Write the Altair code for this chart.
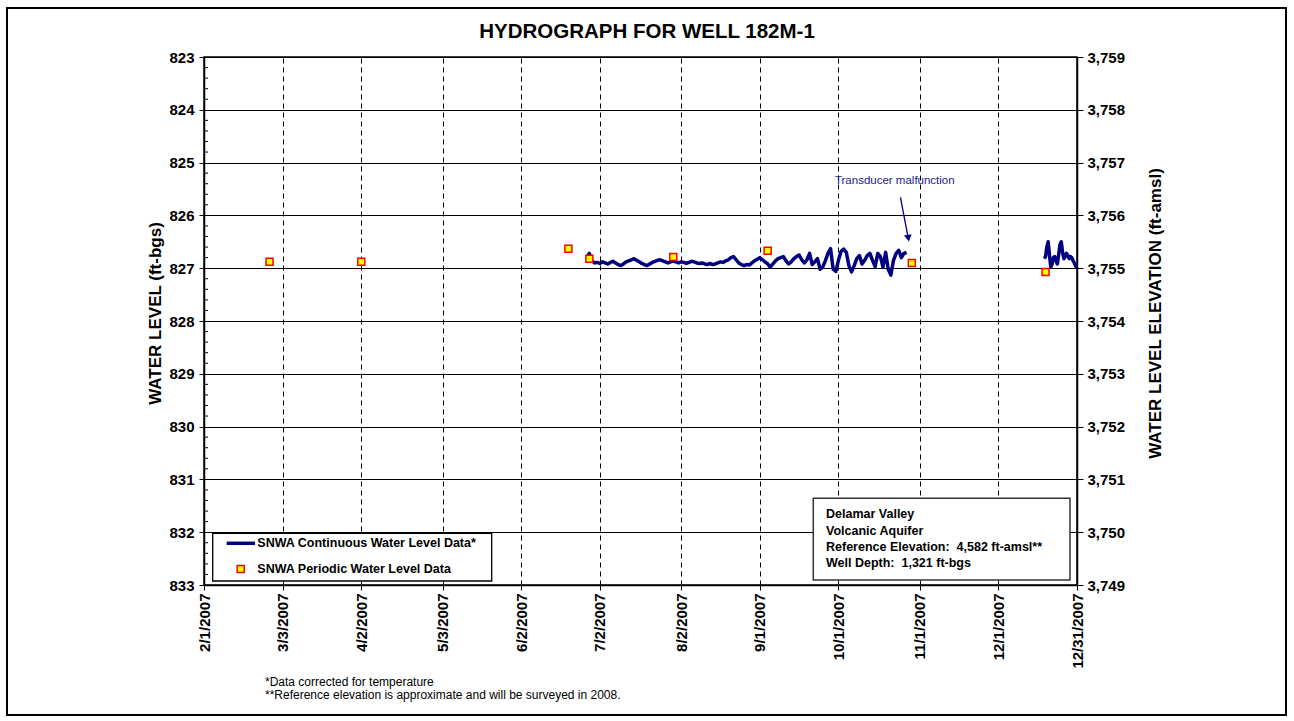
import altair as alt
import pandas as pd

FONT = "Liberation Sans"
NAVY = "#000080"

# ---------------- data ----------------
periodic_dates = ["2007-02-26", "2007-04-02", "2007-06-20", "2007-06-28",
                  "2007-07-30", "2007-09-04", "2007-10-29", "2007-12-19"]
periodic_levels = [826.88, 826.88, 826.63, 826.82, 826.79, 826.67, 826.90, 827.07]

# continuous record, daily readings 6/27/2007 - 10/27/2007
cont1_start = "2007-06-27"
cont1_levels = [
    826.80, 826.72, 826.86, 826.90,
    826.89, 826.91, 826.88, 826.90, 826.92, 826.89, 826.87, 826.90, 826.93, 826.95,
    826.92, 826.88, 826.86, 826.84, 826.82, 826.85, 826.88, 826.91, 826.93, 826.95,
    826.92, 826.89, 826.87, 826.85, 826.84, 826.86, 826.88, 826.90, 826.88, 826.86,
    826.88,
    826.90, 826.88, 826.89, 826.91, 826.89, 826.87, 826.88, 826.90, 826.91, 826.90,
    826.92, 826.93, 826.91, 826.93, 826.92, 826.90, 826.88, 826.89, 826.86, 826.84,
    826.80, 826.78, 826.84, 826.90, 826.93, 826.95, 826.93, 826.94, 826.90, 826.86,
    826.83,
    826.80, 826.84, 826.88, 826.92, 826.98, 826.92, 826.86, 826.82, 826.80, 826.78,
    826.86, 826.92, 826.88, 826.82, 826.78, 826.75, 826.84, 826.90, 826.84, 826.72,
    826.93, 826.88, 826.82, 827.02, 826.98, 826.86, 826.72, 826.63, 827.02, 827.06,
    826.85, 826.68, 826.64, 826.70, 826.95, 827.07, 826.95, 826.82, 826.76, 826.92,
    826.85, 826.76, 826.72, 826.85, 826.97, 826.72, 826.78, 826.98, 826.70, 827.02,
    827.13, 826.85, 826.72, 826.66, 826.80, 826.72, 826.70,
]
# continuous record after the transducer malfunction, 12-hourly readings
cont2_start = "2007-12-18 12:00"
cont2_levels = [
    826.82, 826.78, 826.60, 826.50, 826.75, 826.98, 826.92, 826.80, 826.78, 826.86,
    826.92, 826.75, 826.55, 826.50, 826.70, 826.82, 826.78, 826.72, 826.76, 826.82,
    826.78, 826.80, 826.86, 826.90, 826.96, 827.00,
]

x_tick_dates = ["2007-02-01", "2007-03-03", "2007-04-02", "2007-05-03", "2007-06-02",
                "2007-07-02", "2007-08-02", "2007-09-01", "2007-10-01", "2007-11-01",
                "2007-12-01", "2007-12-31"]
left_ticks = [823, 824, 825, 826, 827, 828, 829, 830, 831, 832, 833]
right_ticks = [3749, 3750, 3751, 3752, 3753, 3754, 3755, 3756, 3757, 3758, 3759]
minor_ticks = [round(823 + i * 0.2, 1) for i in range(51) if i % 5 != 0]
REF_ELEV = 4582

title_text = "HYDROGRAPH FOR WELL 182M-1"
legend_labels = ["SNWA Continuous Water Level Data*", "SNWA Periodic Water Level Data"]
info_lines = ["Delamar Valley", "Volcanic Aquifer",
              "Reference Elevation:\u00a0 4,582 ft-amsl**", "Well Depth:\u00a0 1,321 ft-bgs"]
footnotes = ["*Data corrected for temperature",
             "**Reference elevation is approximate and will be surveyed in 2008."]
annot_text = "Transducer malfunction"
annot_pos = ("2007-10-22T12:00:00Z", 825.35)
arrow_from = ("2007-10-24T16:00:00Z", 825.66)
arrow_to = ("2007-10-27T12:00:00Z", 826.40)
arrow_head = ("2007-10-27T16:00:00Z", 826.43)

# ---------------- tables ----------------
def iso(ts):
    return ts.strftime("%Y-%m-%dT%H:%M:%SZ")

d1 = pd.date_range(cont1_start, periods=len(cont1_levels), freq="D")
d2 = pd.date_range(cont2_start, periods=len(cont2_levels), freq="12h")
cont_df = pd.DataFrame({
    "date": [iso(t) for t in d1] + [iso(t) for t in d2],
    "level": cont1_levels + cont2_levels,
    "seg": ["a"] * len(cont1_levels) + ["b"] * len(cont2_levels),
})
per_df = pd.DataFrame({"date": [d + "T00:00:00Z" for d in periodic_dates],
                       "level": periodic_levels})
minor_df = pd.DataFrame({"level": minor_ticks})
arrow_df = pd.DataFrame({"date": [arrow_from[0]], "level": [arrow_from[1]],
                         "date2": [arrow_to[0]], "level2": [arrow_to[1]]})
head_df = pd.DataFrame({"date": [arrow_head[0]], "level": [arrow_head[1]]})
annot_df = pd.DataFrame({"date": [annot_pos[0]], "level": [annot_pos[1]], "t": [annot_text]})
dummy = pd.DataFrame({"k": [0]})


def dt(s):
    y, m, d = [int(v) for v in s.split("-")]
    return alt.DateTime(year=y, month=m, date=d, utc=True)


xscale = alt.Scale(type="utc", domain=[dt("2007-02-01"), dt("2007-12-31")], nice=False)
xaxis = alt.Axis(values=[dt(s) for s in x_tick_dates],
                 labelExpr="utcFormat(datum.value, '%-m/%-d/%Y')",
                 labelAngle=270, labelAlign="right", labelBaseline="middle",
                 labelFontSize=15, labelFontWeight="bold", labelPadding=3,
                 labelFlush=False, labelOverlap=False,
                 tickSize=5, tickColor="black", domainColor="black", domainWidth=1.5,
                 grid=True, gridColor="black", gridDash=[5, 4], gridWidth=1, gridOpacity=1,
                 title=None)
X = alt.X("date:T", scale=xscale, axis=xaxis)

yscale = alt.Scale(domain=[823, 833], reverse=True, nice=False, zero=False)
yaxis = alt.Axis(values=left_ticks, format="d", labelFontSize=15, labelFontWeight="bold",
                 labelPadding=5, tickSize=5, tickColor="black", domainColor="black",
                 domainWidth=1.5, grid=True, gridColor="black", gridWidth=1, gridOpacity=1,
                 title="WATER LEVEL (ft-bgs)", titleFontSize=17, titleFontWeight="bold",
                 titleAngle=270, titleX=-49, titleY=256, titleAlign="center",
                 titleBaseline="middle")
Y = alt.Y("level:Q", scale=yscale, axis=yaxis)

ryscale = alt.Scale(domain=[3749, 3759], nice=False, zero=False)
ryaxis = alt.Axis(orient="right", values=right_ticks, format=",d", labelFontSize=15,
                  labelFontWeight="bold", labelPadding=4, tickSize=6, tickColor="black",
                  domainColor="black", domainWidth=1.5, grid=False,
                  title="WATER LEVEL ELEVATION (ft-amsl)", titleFontSize=17,
                  titleFontWeight="bold", titleAngle=270, titleX=78, titleY=256,
                  titleAlign="center", titleBaseline="middle")

# ---------------- layers ----------------
line = alt.Chart(cont_df).mark_line(color=NAVY, strokeWidth=3.5, clip=True,
                                    strokeJoin="round").encode(
    x=X, y=Y, detail="seg:N")
points = alt.Chart(per_df).mark_square(size=49, filled=True, fill="#FFFF00",
                                       stroke="#FF0000", strokeWidth=1.5, opacity=1).encode(x=X, y=Y)
minor = alt.Chart(minor_df).mark_rule(color="black", strokeWidth=1).encode(
    x=alt.value(0), x2=alt.value(4), y=Y)
arrow = alt.Chart(arrow_df).mark_rule(color=NAVY, strokeWidth=1.3).encode(
    x=X, y=Y, x2="date2:T", y2="level2:Q")
head = alt.Chart(head_df).mark_point(shape="triangle-down", filled=True, size=60,
                                     angle=350, color=NAVY, opacity=1).encode(x=X, y=Y)
annot = alt.Chart(annot_df).mark_text(font=FONT, fontSize=11.5, color="#1a1a8c",
                                      align="center", baseline="middle").encode(
    x=X, y=Y, text="t:N")

legend_box = alt.Chart(dummy).mark_rect(fill="white", stroke="black", strokeWidth=1.3).encode(
    x=alt.value(8.7), x2=alt.value(287.7), y=alt.value(476.3), y2=alt.value(524))
legend_line = alt.Chart(dummy).mark_rule(color=NAVY, strokeWidth=3.5).encode(
    x=alt.value(22.7), x2=alt.value(51), y=alt.value(486.3))
legend_sq = alt.Chart(dummy).mark_square(size=49, filled=True, fill="#FFFF00",
                                         stroke="#FF0000", strokeWidth=1.5, opacity=1).encode(
    x=alt.value(36.7), y=alt.value(512))
legend_txt = [
    alt.Chart(dummy).mark_text(font=FONT, fontSize=12.5, fontWeight="bold", align="left",
                               baseline="middle", color="black", text=lab).encode(
        x=alt.value(53.3), y=alt.value(yy))
    for lab, yy in zip(legend_labels, [486.3, 512])
]

info_box = alt.Chart(dummy).mark_rect(fill="white", stroke="#333333", strokeWidth=1.5).encode(
    x=alt.value(609.3), x2=alt.value(866), y=alt.value(441.3), y2=alt.value(523))
info_txt = [
    alt.Chart(dummy).mark_text(font=FONT, fontSize=12.5, fontWeight="bold", align="left",
                               baseline="middle", color="black", text=lab).encode(
        x=alt.value(622), y=alt.value(yy))
    for lab, yy in zip(info_lines, [457, 473.7, 489.7, 506.3])
]

title = alt.Chart(dummy).mark_text(font=FONT, fontSize=20.5, fontWeight="bold", align="center",
                                   baseline="middle", color="black", text=title_text).encode(
    x=alt.value(443), y=alt.value(-25))
foot = [
    alt.Chart(dummy).mark_text(font=FONT, fontSize=12, align="left", baseline="middle",
                               color="black", text=lab).encode(x=alt.value(61), y=alt.value(yy))
    for lab, yy in zip(footnotes, [625.3, 638])
]
frame = alt.Chart(dummy).mark_rect(fill="transparent", stroke="black", strokeWidth=2).encode(
    x=alt.value(-197), x2=alt.value(1082), y=alt.value(-49), y2=alt.value(658))

left = alt.layer(line, points, minor, arrow, head, annot,
                 legend_box, legend_line, legend_sq, *legend_txt,
                 info_box, *info_txt, title, *foot, frame)

right = alt.Chart(per_df).transform_calculate(
    elev=f"{REF_ELEV} - datum.level").mark_point(opacity=0).encode(
    x=X, y=alt.Y("elev:Q", scale=ryscale, axis=ryaxis))

chart = alt.layer(left, right).resolve_scale(y="independent").properties(
    width=873, height=528,
    padding={"left": 204, "top": 57, "right": 217, "bottom": 136},
    autosize=alt.AutoSizeParams(type="none"),
    background="white",
).configure_view(stroke="black", strokeWidth=1.5).configure_axis(
    labelFont=FONT, titleFont=FONT, labelColor="black", titleColor="black")

chart.save("out.html", embed_options={"renderer": "svg", "actions": False})
